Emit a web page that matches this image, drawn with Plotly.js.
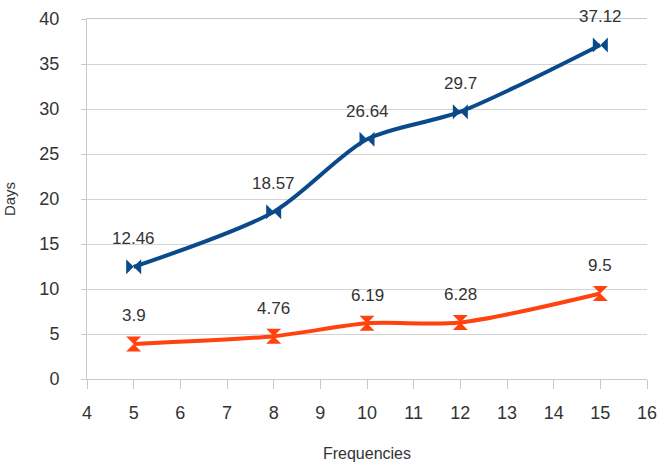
<!DOCTYPE html>
<html><head><meta charset="utf-8">
<script src="https://cdn.plot.ly/plotly-3.0.1.min.js"></script>
<style>html,body{margin:0;padding:0;background:#fff}#chart{width:665px;height:469px}</style>
</head><body><div id="chart"></div>
<script>
const frequencies = [5, 8, 10, 12, 15];
const seriesTop = [12.46, 18.57, 26.64, 29.7, 37.12];
const seriesBottom = [3.9, 4.76, 6.19, 6.28, 9.5];
const xTicks = [4,5,6,7,8,9,10,11,12,13,14,15,16];

const blue = '#0b4a8a', red = '#ff420e';
const font = {family: 'Liberation Sans, Arial, sans-serif', color: '#333', size: 17};
const tickFont = {family: font.family, color: '#333', size: 18};

function ann(xs, ys) {
  return xs.map((x, i) => ({x: x, y: ys[i], text: String(ys[i]), showarrow: false,
    yshift: 28, font: font, xref: 'x', yref: 'y'}));
}

const traces = [
  {x: frequencies, y: seriesTop, mode: 'lines+markers', line: {color: blue, width: 4, shape: 'spline', smoothing: 0.8},
   marker: {symbol: 'bowtie', size: 15, color: blue}, cliponaxis: false},
  {x: frequencies, y: seriesBottom, mode: 'lines+markers', line: {color: red, width: 4, shape: 'spline', smoothing: 0.8},
   marker: {symbol: 'hourglass', size: 15, color: red}, cliponaxis: false}
];

const layout = {
  width: 665, height: 469,
  margin: {l: 87, r: 18, t: 19, b: 90},
  showlegend: false,
  paper_bgcolor: '#fff', plot_bgcolor: '#fff',
  font: font,
  xaxis: {range: [4, 16], tickvals: xTicks, ticktext: xTicks.map(String), showgrid: false, zeroline: false,
    showline: true, linecolor: '#c8c8c8', linewidth: 1, mirror: true,
    ticks: 'outside', ticklen: 9, tickcolor: '#c8c8c8', tickfont: tickFont, ticklabelstandoff: 8,
    title: {text: 'Frequencies', font: {family: font.family, color: '#333', size: 16}, standoff: 26}},
  yaxis: {range: [0, 40], dtick: 5, showgrid: true, gridcolor: '#d4d4d4', zeroline: false,
    showline: true, linecolor: '#c8c8c8', linewidth: 1,
    ticks: 'outside', ticklen: 5, tickcolor: '#c8c8c8', tickfont: tickFont, ticklabelstandoff: 18,
    title: {text: 'Days', font: {family: font.family, color: '#333', size: 15}, standoff: 20}},
  annotations: ann(frequencies, seriesTop).concat(ann(frequencies, seriesBottom))
};

Plotly.newPlot('chart', traces, layout, {displayModeBar: false, staticPlot: true});
</script></body></html>
